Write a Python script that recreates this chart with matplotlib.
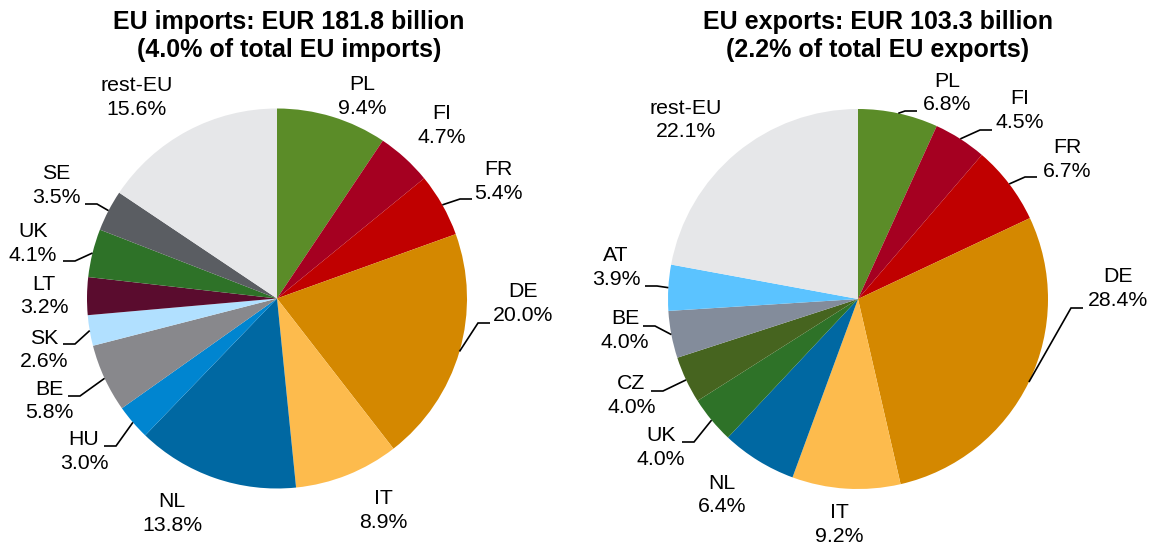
import numpy as np
import matplotlib
matplotlib.use("Agg")
import matplotlib.pyplot as plt

plt.rcParams['font.family'] = ['Liberation Sans', 'DejaVu Sans']

# ---- data ----
imp_countries = ["PL", "FI", "FR", "DE", "IT", "NL", "HU", "BE", "SK", "LT", "UK", "SE", "rest-EU"]
imp_shares = [9.4, 4.7, 5.4, 20.0, 8.9, 13.8, 3.0, 5.8, 2.6, 3.2, 4.1, 3.5, 15.6]
imp_colors = ["#5B8C28", "#A50021", "#C00000", "#D48800", "#FDBB4D", "#0068A2", "#0085D0",
              "#88888C", "#B1E0FF", "#5A0C2E", "#2E7228", "#5A5D62", "#E6E7E9"]

exp_countries = ["PL", "FI", "FR", "DE", "IT", "NL", "UK", "CZ", "BE", "AT", "rest-EU"]
exp_shares = [6.8, 4.5, 6.7, 28.4, 9.2, 6.4, 4.0, 4.0, 4.0, 3.9, 22.1]
exp_colors = ["#5B8C28", "#A50021", "#C00000", "#D48800", "#FDBB4D", "#0068A2", "#2E7228",
              "#46641F", "#838C9B", "#5BC3FF", "#E6E7E9"]

imp_title = "EU imports: EUR 181.8 billion\n(4.0% of total EU imports)"
exp_title = "EU exports: EUR 103.3 billion\n(2.2% of total EU exports)"

# ---- layout (pixel coordinates, origin top-left) ----
W, H = 1152, 547
imp_center = (277, 298.5)
exp_center = (858, 299)
R = 190

imp_label_pos = [(362, 96.5), (442, 125.5), (498, 181.5), (523, 303.5), (383, 510.5),
                 (172, 513.5), (84, 451.5), (49, 401), (44.5, 350), (44, 296),
                 (33, 243.5), (56, 185.5), (137, 97.5)]
imp_leader = [None, None, (472, 199), (490, 323), None, None, (104, 446), (68, 396),
              (63, 344), None, (63, 261), (85, 204), None]

exp_label_pos = [(947, 93), (1020, 110.5), (1067, 159.5), (1118, 288.5), (839, 524.5),
                 (722, 495), (661, 447.5), (631.5, 395.5), (625, 330.5), (616, 267.5),
                 (686, 120)]
exp_leader = [(917, 111), (992, 130), (1037, 177), (1083, 308), None, None,
              (682, 442), (651, 391), (643, 326), (645, 286), None]

fig = plt.figure(figsize=(W / 100, H / 100), dpi=100)
ax = fig.add_axes([0, 0, 1, 1])


def fy(y):
    return H - y


def draw_pie(values, colors, names, center, label_pos, leaders, title, title_dx):
    cx, cy = center[0], fy(center[1])
    wedges, _ = ax.pie(values, colors=colors, startangle=90, counterclock=False,
                       center=(cx, cy), radius=R, wedgeprops=dict(linewidth=0))
    for w, name, val, pos, lead in zip(wedges, names, values, label_pos, leaders):
        ax.text(pos[0], fy(pos[1]), f"{name}\n{val:.1f}%", ha="center", va="center",
                fontsize=15.3, linespacing=1.28, color="#000000")
        if lead is not None:
            th = np.deg2rad((w.theta1 + w.theta2) / 2)
            ex, ey = cx + R * np.cos(th), cy + R * np.sin(th)
            axp, ayp = lead[0], fy(lead[1])
            kx = axp - 12 if axp > cx else axp + 12
            ax.plot([ex, kx, axp], [ey, ayp, ayp], color="black", lw=1.2,
                    solid_capstyle="butt", solid_joinstyle="miter")
    ax.text(center[0] + title_dx, fy(36), title, ha="center", va="center",
            fontsize=18, fontweight="bold", linespacing=1.22)


draw_pie(imp_shares, imp_colors, imp_countries, imp_center, imp_label_pos, imp_leader,
         imp_title, 12)
draw_pie(exp_shares, exp_colors, exp_countries, exp_center, exp_label_pos, exp_leader,
         exp_title, 20)

ax.set_aspect("auto")
ax.set_xlim(0, W)
ax.set_ylim(0, H)
ax.axis("off")

fig.savefig("out.png", dpi=100, facecolor="white")
